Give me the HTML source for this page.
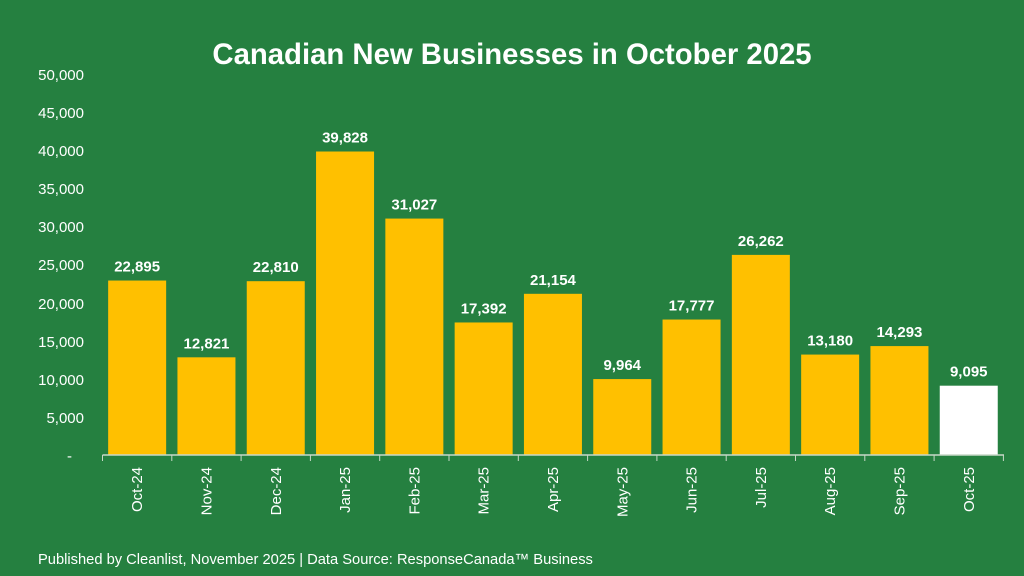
<!DOCTYPE html>
<html><head><style>body{margin:0;background:#258040}svg{display:block}</style></head><body>
<svg width="1024" height="576" xmlns="http://www.w3.org/2000/svg" font-family="Liberation Sans, Arial, sans-serif">
<rect width="1024" height="576" fill="#258040"/>
<text x="512" y="64" text-anchor="middle" font-size="29.3" font-weight="bold" fill="#fff">Canadian New Businesses in October 2025</text>
<g font-size="15" fill="#fff" text-anchor="end">
<text x="84" y="80">50,000</text><text x="84" y="118">45,000</text><text x="84" y="156">40,000</text><text x="84" y="194">35,000</text><text x="84" y="232">30,000</text><text x="84" y="270">25,000</text><text x="84" y="309">20,000</text><text x="84" y="347">15,000</text><text x="84" y="385">10,000</text><text x="84" y="423">5,000</text><text x="72" y="461">-</text>
</g>
<g id="bars"></g>
<line x1="102.5" y1="455" x2="1004" y2="455" stroke="#c8d8c8" stroke-width="1.5"/>
<g id="ticks" stroke="#c8d8c8" stroke-width="1"></g>
<text x="38" y="564" font-size="14.7" fill="#fff">Published by Cleanlist,  November 2025 | Data Source: ResponseCanada™ Business</text>
<script>
var d=[["Oct-24",22895],["Nov-24",12821],["Dec-24",22810],["Jan-25",39828],["Feb-25",31027],["Mar-25",17392],["Apr-25",21154],["May-25",9964],["Jun-25",17777],["Jul-25",26262],["Aug-25",13180],["Sep-25",14293],["Oct-25",9095]];
var ns="http://www.w3.org/2000/svg",g=document.getElementById("bars"),t=document.getElementById("ticks");
function el(n,a,p,txt){var e=document.createElementNS(ns,n);for(var k in a)e.setAttribute(k,a[k]);if(txt)e.textContent=txt;p.appendChild(e);return e;}
var L=102.5,P=69.3,Y0=455,S=381/50000;
for(var i=0;i<=13;i++)el("line",{x1:L+i*P,y1:455,x2:L+i*P,y2:461},t);
d.forEach(function(r,i){var c=L+P*(i+0.5),h=r[1]*S;
el("rect",{x:c-29,y:Y0-h,width:58,height:h,fill:i==12?"#fff":"#FFC000"},g);
el("text",{x:c,y:Y0-h-9,"text-anchor":"middle","font-size":15,"font-weight":"bold",fill:"#fff"},g,r[1].toLocaleString("en-US"));
el("text",{x:0,y:0,transform:"translate("+(c+5)+",467) rotate(-90)","text-anchor":"end","font-size":15,fill:"#fff"},g,r[0]);});
</script>
</svg>
</body></html>
